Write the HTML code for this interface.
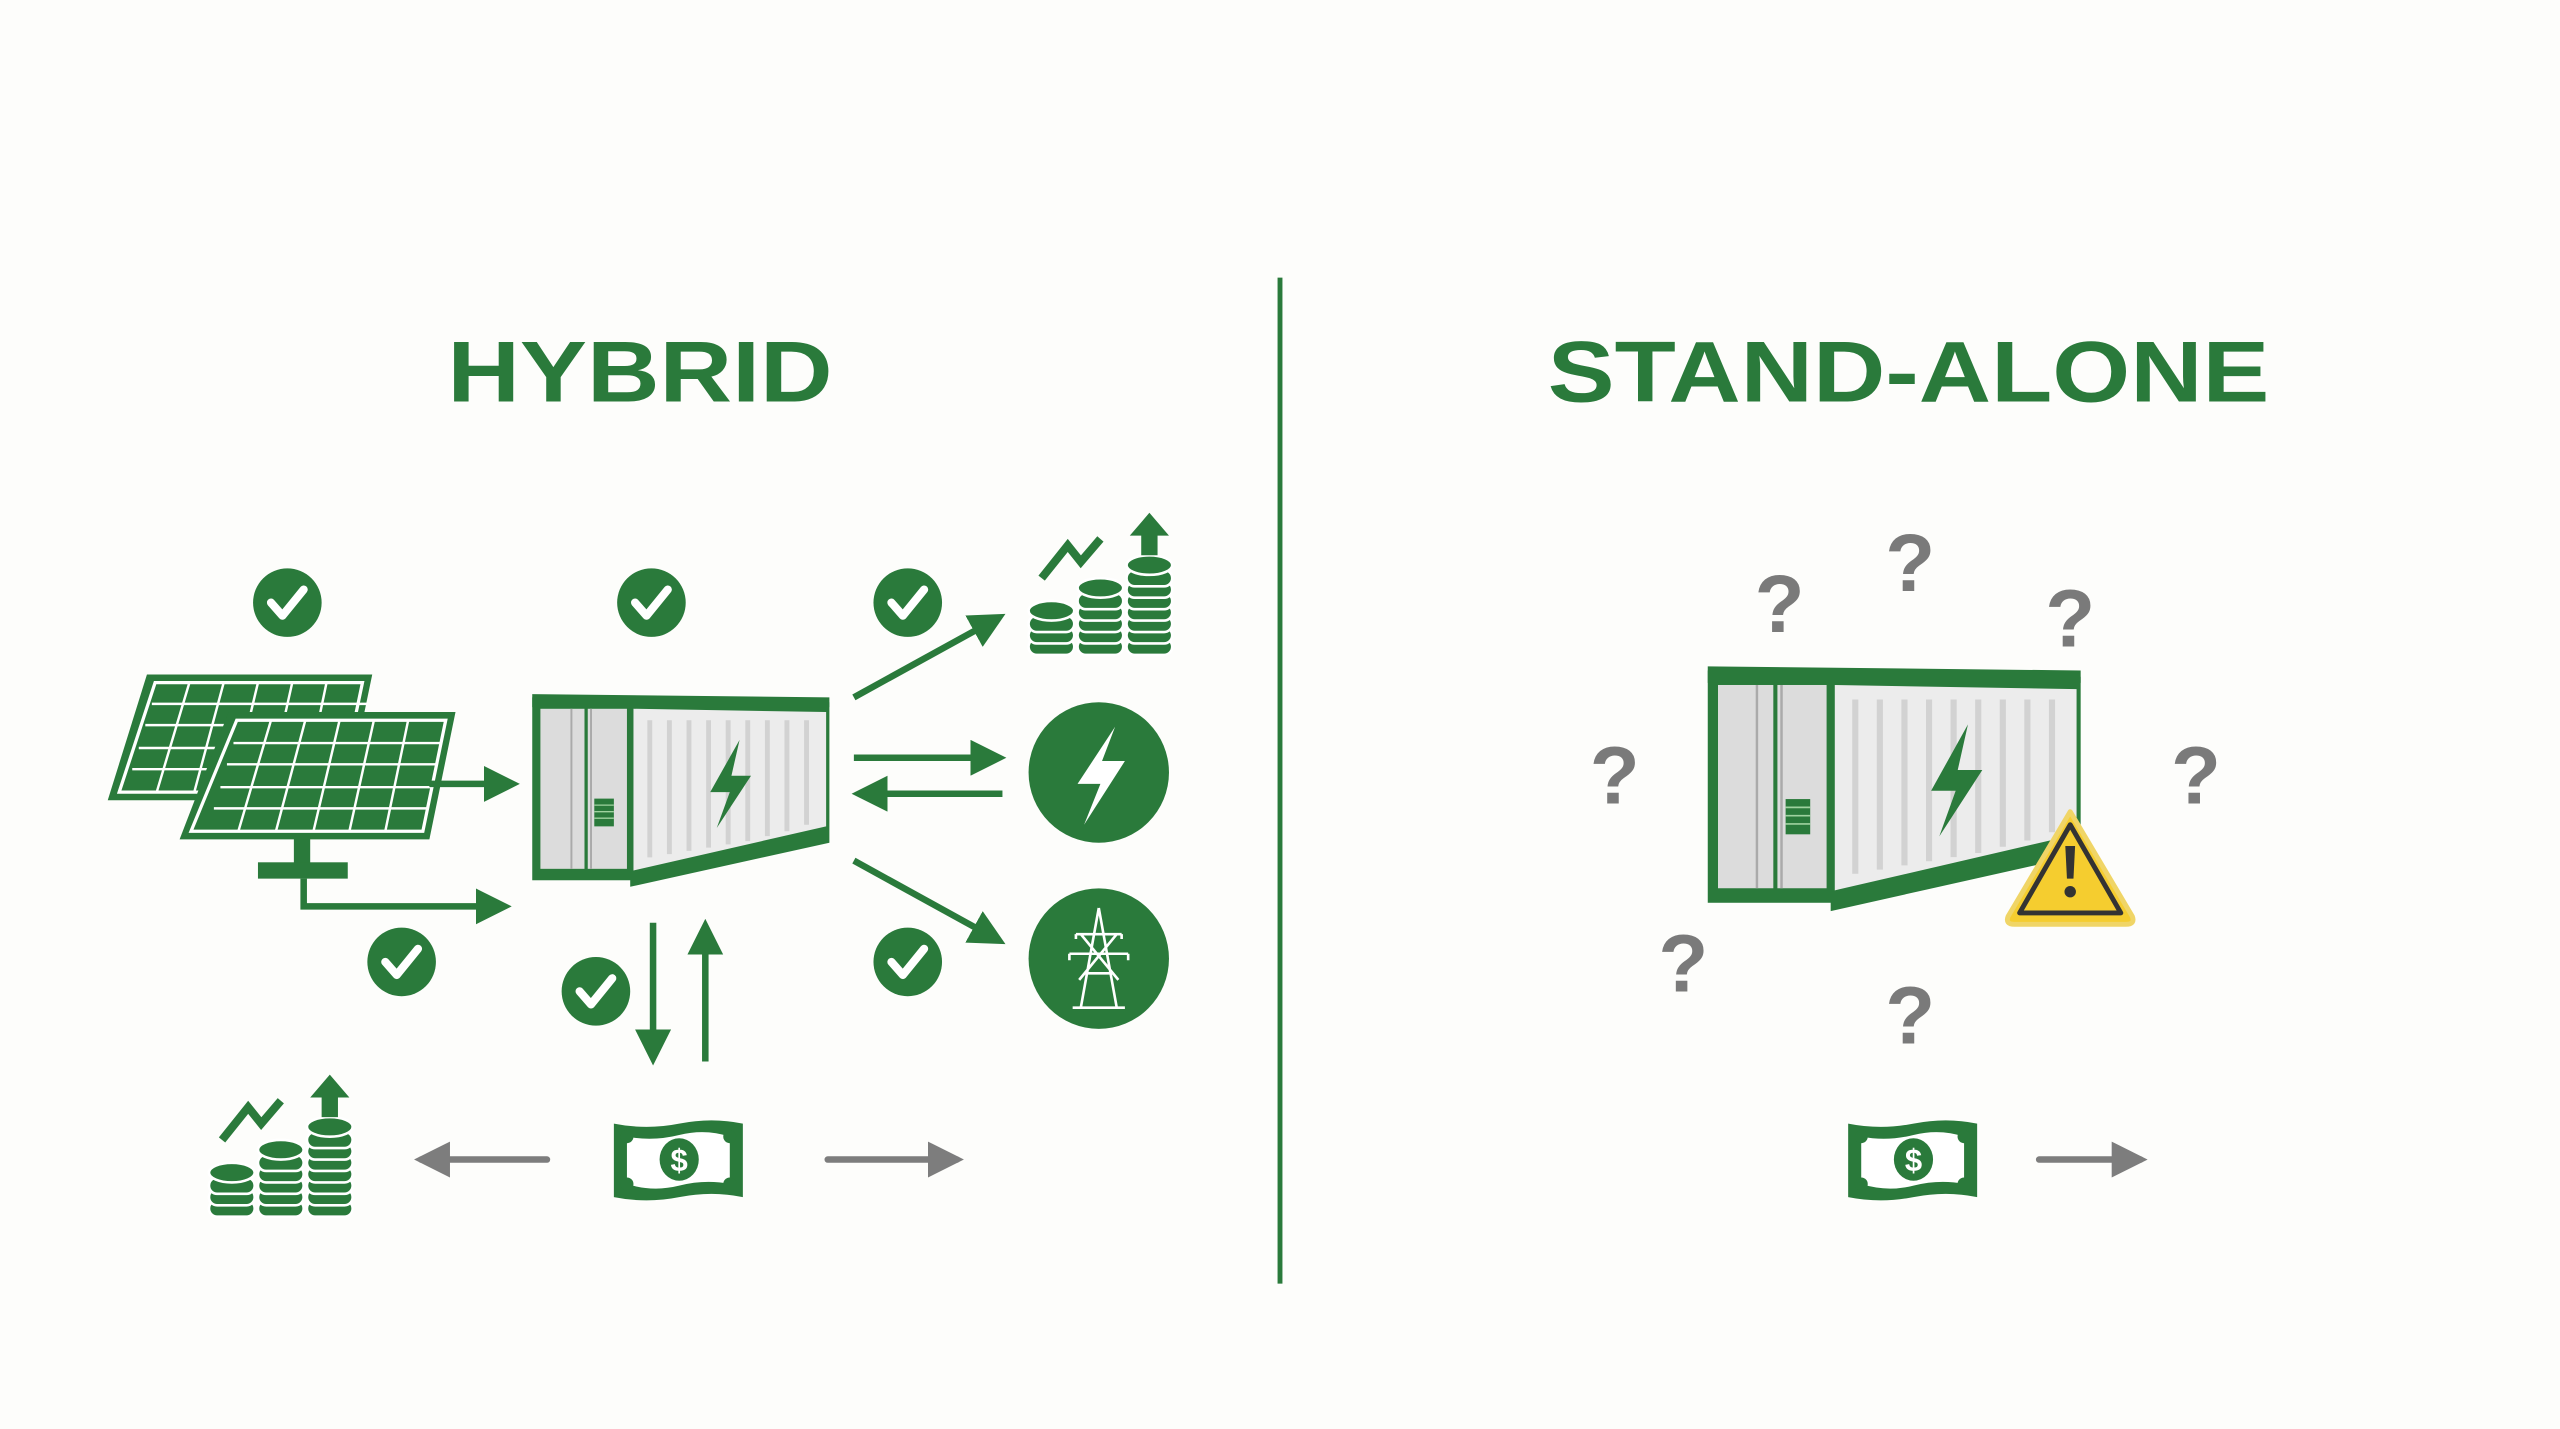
<!DOCTYPE html>
<html><head><meta charset="utf-8"><style>
html,body{margin:0;padding:0;background:#fdfdfb}
svg{display:block}
text{font-family:"Liberation Sans",sans-serif;font-weight:bold}
</style></head><body>
<svg width="2560" height="1429" viewBox="0 0 1568 875" preserveAspectRatio="none" xmlns="http://www.w3.org/2000/svg">
<defs>
<marker id="ag" viewBox="0 0 10 10" refX="8" refY="5" markerWidth="5.5" markerHeight="5.5" orient="auto-start-reverse"><path d="M0,0L10,5L0,10Z" fill="#2a7a3b"/></marker>
<marker id="agr" viewBox="0 0 10 10" refX="8" refY="5" markerWidth="5.5" markerHeight="5.5" orient="auto-start-reverse"><path d="M0,0L10,5L0,10Z" fill="#7d7d7d"/></marker>
<g id="chk"><circle r="21" fill="#2a7a3b"/><path d="M-10,0L-3,8L10,-8" fill="none" stroke="#fff" stroke-width="5" stroke-linecap="round" stroke-linejoin="round"/></g>
<g id="coins" fill="#2a7a3b" stroke="#fff" stroke-width="1.6">
  <g>
   <rect x="0" y="77" width="28" height="10" rx="5"/><rect x="0" y="70" width="28" height="10" rx="5"/><rect x="0" y="63" width="28" height="10" rx="5"/><ellipse cx="14" cy="60" rx="14" ry="6"/>
  </g>
  <g>
   <rect x="30" y="77" width="28" height="10" rx="5"/><rect x="30" y="70" width="28" height="10" rx="5"/><rect x="30" y="63" width="28" height="10" rx="5"/><rect x="30" y="56" width="28" height="10" rx="5"/><rect x="30" y="49" width="28" height="10" rx="5"/><ellipse cx="44" cy="46" rx="14" ry="6"/>
  </g>
  <g>
   <rect x="60" y="77" width="28" height="10" rx="5"/><rect x="60" y="70" width="28" height="10" rx="5"/><rect x="60" y="63" width="28" height="10" rx="5"/><rect x="60" y="56" width="28" height="10" rx="5"/><rect x="60" y="49" width="28" height="10" rx="5"/><rect x="60" y="42" width="28" height="10" rx="5"/><rect x="60" y="35" width="28" height="10" rx="5"/><ellipse cx="74" cy="32" rx="14" ry="6"/>
  </g>
  <path d="M8,40L24,20L32,30L44,16" fill="none" stroke="#2a7a3b" stroke-width="5"/>
  <path d="M69,26L69,14L62,14L74,0L86,14L79,14L79,26Z" stroke="none"/>
</g>
<g id="bill">
  <path d="M0,2Q20,6 40,2T79,2L79,47Q60,43 40,47T0,47Z" fill="#2a7a3b"/>
  <path d="M8,10Q24,13 40,9T71,10L71,39Q56,36 40,40T8,39Z" fill="#fff"/>
  <circle cx="8" cy="10" r="4" fill="#2a7a3b"/><circle cx="71" cy="10" r="4" fill="#2a7a3b"/><circle cx="8" cy="39" r="4" fill="#2a7a3b"/><circle cx="71" cy="39" r="4" fill="#2a7a3b"/>
  <ellipse cx="40" cy="24" rx="12" ry="13" fill="#2a7a3b"/>
  <text x="40" y="31" font-size="19" fill="#fff" text-anchor="middle">$</text>
</g>
<g id="cont">
  <rect x="0" y="2" width="62" height="112" fill="#2a7a3b"/>
  <rect x="5" y="9" width="27" height="98" fill="#dcdcdc"/>
  <rect x="34" y="9" width="24" height="98" fill="#dcdcdc"/>
  <line x1="24" y1="9" x2="24" y2="107" stroke="#aaa" stroke-width="1.2"/>
  <line x1="36" y1="9" x2="36" y2="107" stroke="#aaa" stroke-width="1.2"/>
  <rect x="38" y="64" width="12" height="17" fill="#2a7a3b"/>
  <path d="M38,68h12M38,72h12M38,76h12" stroke="#9fd29f" stroke-width="0.8"/>
  <path d="M60,2L182,5L182,91L60,118Z" fill="#2a7a3b"/>
  <path d="M62,9L180,11L180,81L62,108Z" fill="#ececec"/>
  <g stroke="#d2d2d2" stroke-width="3">
   <line x1="72" y1="16" x2="72" y2="100"/><line x1="84" y1="16" x2="84" y2="98"/><line x1="96" y1="16" x2="96" y2="96"/><line x1="108" y1="16" x2="108" y2="94"/><line x1="120" y1="16" x2="120" y2="92"/><line x1="132" y1="16" x2="132" y2="90"/><line x1="144" y1="16" x2="144" y2="87"/><line x1="156" y1="16" x2="156" y2="84"/><line x1="168" y1="16" x2="168" y2="80"/>
  </g>
  <path d="M0,0L182,2L182,8L0,8Z" fill="#2a7a3b"/>
  <path d="M127,28L109,60L121,60L113,82L134,50L122,50Z" fill="#2a7a3b"/>
</g>
</defs>

<rect width="1568" height="875" fill="#fdfdfb"/>

<text x="274" y="246" font-size="53" fill="#2a7a3b" textLength="236" lengthAdjust="spacingAndGlyphs">HYBRID</text>
<text x="948" y="246" font-size="53" fill="#2a7a3b" textLength="442" lengthAdjust="spacingAndGlyphs">STAND-ALONE</text>
<line x1="784" y1="170" x2="784" y2="786" stroke="#2a7a3b" stroke-width="3"/>

<use href="#chk" x="176" y="369"/><use href="#chk" x="399" y="369"/><use href="#chk" x="556" y="369"/>
<use href="#chk" x="246" y="589"/><use href="#chk" x="365" y="607"/><use href="#chk" x="556" y="589"/>

<g>
 <path d="M90,413L228,413L212,490L66,490Z" fill="#2a7a3b"/>
 <path d="M95,418L222,418L208,485L73,485Z" fill="none" stroke="#fff" stroke-width="2"/>
 <g stroke="#fff" stroke-width="1.5"><line x1="93" y1="431" x2="225" y2="431"/><line x1="89" y1="444" x2="222" y2="444"/><line x1="85" y1="458" x2="219" y2="458"/><line x1="81" y1="471" x2="216" y2="471"/>
 <line x1="116" y1="418" x2="96" y2="485"/><line x1="137" y1="418" x2="119" y2="485"/><line x1="158" y1="418" x2="142" y2="485"/><line x1="179" y1="418" x2="164" y2="485"/><line x1="200" y1="418" x2="186" y2="485"/></g>
 <path d="M140,436L279,436L263,514L110,514Z" fill="#2a7a3b"/>
 <path d="M145,441L273,441L259,509L117,509Z" fill="none" stroke="#fff" stroke-width="2"/>
 <g stroke="#fff" stroke-width="1.5"><line x1="143" y1="455" x2="271" y2="455"/><line x1="139" y1="468" x2="268" y2="468"/><line x1="135" y1="482" x2="265" y2="482"/><line x1="131" y1="495" x2="262" y2="495"/>
 <line x1="166" y1="441" x2="146" y2="509"/><line x1="187" y1="441" x2="169" y2="509"/><line x1="208" y1="441" x2="192" y2="509"/><line x1="229" y1="441" x2="214" y2="509"/><line x1="250" y1="441" x2="236" y2="509"/></g>
 <rect x="180" y="512" width="10" height="18" fill="#2a7a3b"/>
 <rect x="158" y="528" width="55" height="10" fill="#2a7a3b"/>
</g>
<g stroke="#2a7a3b" stroke-width="4" fill="none">
 <line x1="263" y1="480" x2="314" y2="480" marker-end="url(#ag)"/>
 <polyline points="186,538 186,555 309,555" marker-end="url(#ag)"/>
 <line x1="523" y1="427" x2="612" y2="378" marker-end="url(#ag)"/>
 <line x1="523" y1="464" x2="612" y2="464" marker-end="url(#ag)"/>
 <line x1="614" y1="486" x2="526" y2="486" marker-end="url(#ag)"/>
 <line x1="523" y1="527" x2="612" y2="576" marker-end="url(#ag)"/>
 <line x1="400" y1="565" x2="400" y2="648" marker-end="url(#ag)"/>
 <line x1="432" y1="650" x2="432" y2="567" marker-end="url(#ag)"/>
</g>

<use href="#cont" transform="translate(326,425)"/>

<use href="#coins" transform="translate(630,314)"/>
<circle cx="673" cy="473" r="43" fill="#2a7a3b"/>
<path d="M683,445L660,480L674,480L664,505L689,466L675,466Z" fill="#fff"/>
<circle cx="673" cy="587" r="43" fill="#2a7a3b"/>
<g stroke="#fff" stroke-width="1.6" fill="none">
 <path d="M673,556L662,617M673,556L684,617M659,572h28M655,584h36M662,572L685,600M684,572L661,600M664,596h18M657,617h32"/>
 <path d="M655,584v4M691,584v4M659,572v3M687,572v3"/>
</g>

<use href="#coins" transform="translate(128,658)"/>
<g stroke-width="4" stroke-linecap="round" fill="none" stroke="#7d7d7d">
 <line x1="335" y1="710" x2="258" y2="710" marker-end="url(#agr)"/>
 <line x1="507" y1="710" x2="586" y2="710" marker-end="url(#agr)"/>
 <line x1="1249" y1="710" x2="1311" y2="710" marker-end="url(#agr)"/>
</g>
<use href="#bill" transform="translate(376,686)"/>
<use href="#bill" transform="translate(1132,686)"/>

<use href="#cont" transform="translate(1046,408) scale(1.255,1.27)"/>
<path d="M1268,497L1306,561Q1308,566 1302,566L1234,566Q1228,566 1230,561Z" fill="#f5cd2f" stroke="#f0d566" stroke-width="3" stroke-linejoin="round"/>
<path d="M1268,505L1299,559L1237,559Z" fill="none" stroke="#333" stroke-width="3" stroke-linejoin="round"/>
<path d="M1265,518h6l-1,20h-4Z" fill="#333"/><circle cx="1268" cy="546" r="3.5" fill="#333"/>

<g font-size="50" fill="#7a7a7a" text-anchor="middle">
 <text x="1090" y="387">?</text><text x="1170" y="362">?</text><text x="1268" y="396">?</text>
 <text x="989" y="492">?</text><text x="1345" y="492">?</text><text x="1031" y="607">?</text><text x="1170" y="639">?</text>
</g>
</svg>
</body></html>
